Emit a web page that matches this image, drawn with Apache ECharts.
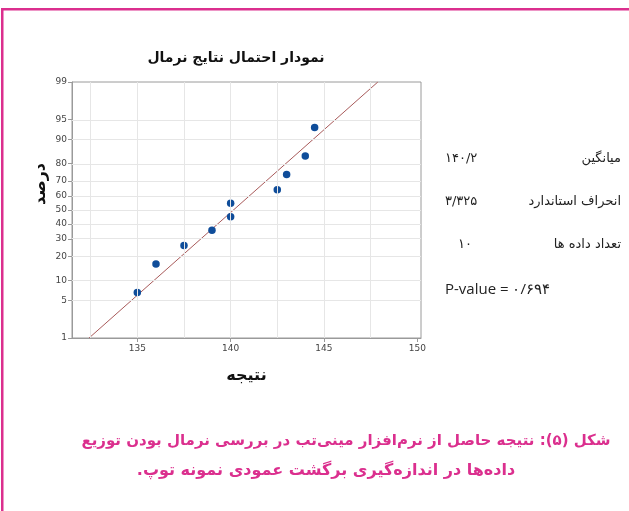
<!DOCTYPE html>
<html>
<head>
<meta charset="utf-8">
<script src="https://cdn.jsdelivr.net/npm/echarts@6/dist/echarts.min.js"></script>
<style>
html,body{margin:0;padding:0;background:#fff;}
#chart{width:629px;height:511px;}
</style>
</head>
<body>
<div id="chart" dir="rtl"></div>
<script>
// ---- data ----
const resultValues = [135, 136, 137.5, 139, 140, 140, 142.5, 143, 144, 144.5];
const percentValues = [6.7, 16.3, 26.0, 35.6, 45.2, 54.8, 64.4, 74.0, 83.7, 93.3];
const yTickPercents = [1, 5, 10, 20, 30, 40, 50, 60, 70, 80, 90, 95, 99];
const xTickLabels = [135, 140, 145, 150];
const xGridValues = [132.5, 135, 137.5, 140, 142.5, 145, 147.5, 150];
const statLabels = ['میانگین', 'انحراف استاندارد', 'تعداد داده ها'];
const statValues = ['۱۴۰/۲', '۳/۳۲۵', '۱۰'];
const pValueText = 'P-value = ۰/۶۹۴';
const chartTitle = 'نمودار احتمال نتایج نرمال';
const yName = 'درصد';
const xName = 'نتیجه';
const captionLines = [
  'شکل (۵): نتیجه حاصل از نرم‌افزار مینی‌تب در بررسی نرمال بودن توزیع',
  'داده‌ها در اندازه‌گیری برگشت عمودی نمونه توپ.'
];

// inverse standard normal CDF (Acklam)
function normInv(p) {
  const a = [-39.69683028665376, 220.9460984245205, -275.9285104469687, 138.3577518672690, -30.66479806614716, 2.506628277459239];
  const b = [-54.47609879822406, 161.5858368580409, -155.6989798598866, 66.80131188771972, -13.28068155288572];
  const c = [-0.007784894002430293, -0.3223964580411365, -2.400758277161838, -2.549732539343734, 4.374664141464968, 2.938163982698783];
  const d = [0.007784695709041462, 0.3224671290700398, 2.445134137142996, 3.754408661907416];
  const pl = 0.02425, ph = 1 - pl;
  let q, r;
  if (p < pl) {
    q = Math.sqrt(-2 * Math.log(p));
    return (((((c[0]*q+c[1])*q+c[2])*q+c[3])*q+c[4])*q+c[5]) / ((((d[0]*q+d[1])*q+d[2])*q+d[3])*q+1);
  } else if (p <= ph) {
    q = p - 0.5; r = q * q;
    return (((((a[0]*r+a[1])*r+a[2])*r+a[3])*r+a[4])*r+a[5])*q / (((((b[0]*r+b[1])*r+b[2])*r+b[3])*r+b[4])*r+1);
  } else {
    q = Math.sqrt(-2 * Math.log(1 - p));
    return -(((((c[0]*q+c[1])*q+c[2])*q+c[3])*q+c[4])*q+c[5]) / ((((d[0]*q+d[1])*q+d[2])*q+d[3])*q+1);
  }
}
const z = p => normInv(p / 100);
const zTicks = yTickPercents.map(z);
const zMin = z(yTickPercents[0]);
const zMax = z(yTickPercents[yTickPercents.length - 1]);

// fitted normal line from the data
const n = resultValues.length;
const mean = resultValues.reduce((s, v) => s + v, 0) / n;
const sd = Math.sqrt(resultValues.reduce((s, v) => s + (v - mean) * (v - mean), 0) / (n - 1));
const fitLine = [[mean + sd * zMin, zMin], [mean + sd * zMax, zMax]];

const pink = '#db2f8e';
const font = 'DejaVu Sans';
const gridLine = { color: '#e6e6e6', width: 1, type: 'solid' };

const chart = echarts.init(document.getElementById('chart'), null, { renderer: 'canvas' });
chart.setOption({
  animation: false,
  backgroundColor: '#fff',
  grid: { left: 72, right: 208, top: 82, bottom: 173, show: true, borderColor: '#9a9a9a', borderWidth: 1, backgroundColor: 'transparent' },
  xAxis: {
    type: 'value', min: 131.5, max: 150.2,
    axisLine: { show: true, onZero: false, lineStyle: { color: '#9a9a9a' } },
    axisTick: { show: true, customValues: xTickLabels, length: 4, lineStyle: { color: '#9a9a9a' } },
    axisLabel: { customValues: xTickLabels, color: '#444', fontSize: 9, fontFamily: font, margin: 6 },
    splitLine: { show: false },
    name: xName, nameLocation: 'middle', nameGap: 30,
    nameTextStyle: { fontFamily: font, fontWeight: 'bold', fontSize: 16, color: '#111' }
  },
  yAxis: {
    type: 'value', min: zMin, max: zMax,
    axisLine: { show: true, onZero: false, lineStyle: { color: '#9a9a9a' } },
    axisTick: { show: true, customValues: zTicks, length: 4, lineStyle: { color: '#9a9a9a' } },
    axisLabel: {
      customValues: zTicks, color: '#444', fontSize: 9, fontFamily: font, margin: 5,
      formatter: v => { let best = 0; zTicks.forEach((t, i) => { if (Math.abs(t - v) < Math.abs(zTicks[best] - v)) best = i; }); return String(yTickPercents[best]); }
    },
    splitLine: { show: false }
  },
  series: [
    {
      type: 'line', data: [], silent: true,
      markLine: {
        silent: true, symbol: 'none', label: { show: false }, lineStyle: gridLine, animation: false,
        data: zTicks.slice(1, -1).map(v => ({ yAxis: v })).concat(xGridValues.slice(0, -1).map(v => ({ xAxis: v })))
      }
    },
    {
      type: 'line', data: fitLine, showSymbol: false, symbol: 'none', silent: true,
      lineStyle: { color: '#a85a5a', width: 1 }, z: 3
    },
    {
      type: 'scatter', data: resultValues.map((x, i) => [x, z(percentValues[i])]),
      symbol: 'circle', symbolSize: 7.5, itemStyle: { color: '#0f4d9a', opacity: 1 }, z: 4
    }
  ],
  graphic: [
    { type: 'rect', shape: { x: 1, y: 8, width: 628, height: 2.5 }, style: { fill: pink } },
    { type: 'rect', shape: { x: 1, y: 8, width: 2.5, height: 503 }, style: { fill: pink } },
    { type: 'text', x: 236, y: 58, style: { text: chartTitle, font: 'bold 14px "' + font + '"', fill: '#111', align: 'center', verticalAlign: 'middle' } },
    { type: 'text', x: 41, y: 184, rotation: Math.PI / 2, style: { text: yName, font: 'bold 16px "' + font + '"', fill: '#111', align: 'center', verticalAlign: 'middle' } },
    { type: 'text', x: 621, y: 159, style: { text: statLabels[0], font: '13px "' + font + '"', fill: '#222', align: 'right', verticalAlign: 'middle' } },
    { type: 'text', x: 621, y: 202, style: { text: statLabels[1], font: '13px "' + font + '"', fill: '#222', align: 'right', verticalAlign: 'middle' } },
    { type: 'text', x: 621, y: 245, style: { text: statLabels[2], font: '13px "' + font + '"', fill: '#222', align: 'right', verticalAlign: 'middle' } },
    { type: 'text', x: 445, y: 159, style: { text: statValues[0], font: '13px "' + font + '"', fill: '#222', align: 'left', verticalAlign: 'middle' } },
    { type: 'text', x: 445, y: 202, style: { text: statValues[1], font: '13px "' + font + '"', fill: '#222', align: 'left', verticalAlign: 'middle' } },
    { type: 'text', x: 458, y: 245, style: { text: statValues[2], font: '13px "' + font + '"', fill: '#222', align: 'left', verticalAlign: 'middle' } },
    { type: 'text', x: 445, y: 290, style: { text: pValueText, font: '15px "Open Sans"', fill: '#222', align: 'left', verticalAlign: 'middle' } },
    { type: 'text', x: 346, y: 441, style: { text: captionLines[0], font: 'bold 15px "' + font + '"', fill: pink, align: 'center', verticalAlign: 'middle' } },
    { type: 'text', x: 326, y: 471, style: { text: captionLines[1], font: 'bold 16px "' + font + '"', fill: pink, align: 'center', verticalAlign: 'middle' } }
  ]
});
</script>
</body>
</html>
